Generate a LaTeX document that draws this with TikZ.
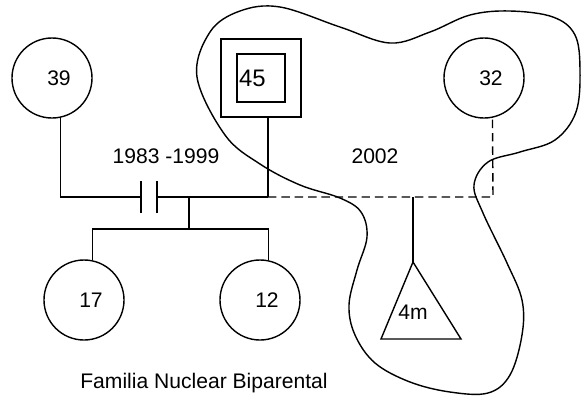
\documentclass[tikz,border=0pt]{standalone}
\usepackage{fontspec}
\setmainfont{Liberation Sans}
\begin{document}
\begin{tikzpicture}[x=0.025cm, y=-0.025cm, line width=1pt,
    person/.style={circle, draw, minimum size=2cm, inner sep=0pt,
      font=\fontsize{15}{18}\selectfont, execute at begin node=\hspace{3.5mm}},
    yeartext/.style={anchor=base, inner sep=0pt, font=\fontsize{15}{18}\selectfont},
    kin/.style={dash pattern=on 6pt off 3.5pt}]
  \useasboundingbox (0,0) rectangle (581,397);

  % the people
  \node[person] (p39) at (52,78) {39};
  \node[person] (p32) at (484,78) {32};
  \node[person] (c17) at (84,300) {17};
  \node[person] (c12) at (260,300) {12};
  \node[draw, minimum width=2cm, minimum height=1.95cm] (p45) at (261,78) {};
  \node[draw, minimum size=1.2cm] (p45in) at (p45) {};
  \node[anchor=west, inner sep=1.5pt, font=\fontsize{17}{20}\selectfont] (t45) at (p45in.west) {45};

  \coordinate (bar1) at (141,197);
  \coordinate (bar2) at (157,197);
  \coordinate (j45) at (268,197);
  \coordinate (kids) at (189,197);
  \coordinate (sib) at (189,229);
  \coordinate (j4m) at (413,197);
  \coordinate (j32) at (493,197);
  \coordinate (apex) at (413,262);
  \coordinate (baseL) at (381,339);
  \coordinate (baseR) at (461,339);

  % first union, broken
  \draw (p39.-78) |- (bar1);
  \draw (bar1) ++(0,-16) -- ++(0,32);
  \draw (bar2) ++(0,-16) -- ++(0,32);
  \draw (bar2) -- (j45);
  \draw (j45) -- (j45 |- p45.south);

  % children of the first union
  \draw (kids) -- (sib);
  \draw (c17.78) |- (sib) -| (c12.78);

  % second union and its child
  \draw[kin] (j45) -- (j32) -- (p32.-78);
  \draw (j4m) -- (apex);
  \draw (apex) -- (baseL) -- (baseR) -- cycle;
  \node[yeartext] (t4m) at (413,319) {4m};

  \node[yeartext] (y1) at (166,163) {1983 -1999};
  \node[yeartext] (y2) at (375,163) {2002};
  \node[yeartext] (title) at (204,388) {Familia Nuclear Biparental};

  % the household line
  \draw plot[smooth cycle, tension=0.6] coordinates {
    (197,77) (210,32) (240,11) (280,7) (340,27) (390,43) (430,32) (470,15)
    (510,11) (553,17) (575,35) (580,70) (576,112) (555,140) (520,152)
    (488,162) (474,185) (483,213) (507,263) (522,300) (522,335) (510,375)
    (488,393) (450,392) (410,382) (375,363) (355,335) (349,305) (357,270)
    (367,237) (361,212) (340,198) (300,185) (260,164) (225,135)};
\end{tikzpicture}
\end{document}
